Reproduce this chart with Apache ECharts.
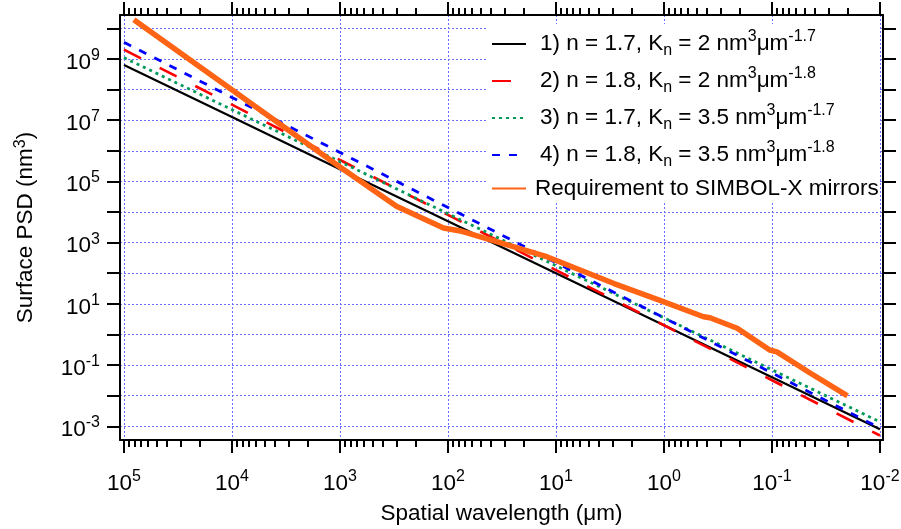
<!DOCTYPE html>
<html>
<head>
<meta charset="UTF-8">
<title>Surface PSD vs spatial wavelength</title>
<script src="https://cdn.jsdelivr.net/npm/echarts@6/dist/echarts.min.js"></script>
<style>
  body { margin: 0; background: #fff; }
  #main { width: 901px; height: 529px; }
</style>
</head>
<body>
<div id="main"></div>
<script>
// wavelengths (um) where the four power-law fits are read
const fitWavelength = [1e5, 1e4, 1e3, 1e2, 1e1, 1, 1e-1, 1e-2];
// surface PSD (nm^3) of each fit at those wavelengths
const fit1 = [6.3e8, 1.26e7, 2.5e5, 5.0e3, 1.0e2, 2.0, 4.0e-2, 8.0e-4];
const fit2 = [2.0e9, 3.2e7, 5.0e5, 8.0e3, 1.26e2, 2.0, 3.2e-2, 5.0e-4];
const fit3 = [1.1e9, 2.2e7, 4.4e5, 8.8e3, 1.75e2, 3.5, 7.0e-2, 1.4e-3];
const fit4 = [3.5e9, 5.5e7, 8.8e5, 1.4e4, 2.2e2, 3.5, 5.5e-2, 8.8e-4];
// SIMBOL-X requirement curve
const reqWavelength = [8.1e4, 1000, 300, 110, 77, 33, 12, 2.9, 1.09, 0.43, 0.375, 0.21, 0.105, 0.09, 0.044, 0.02];
const reqPSD = [1.9e10, 2.95e5, 1.55e4, 3.0e3, 2.4e3, 1.0e3, 340, 46, 13, 3.8, 3.5, 1.6, 0.31, 0.27, 0.054, 0.0098];

const seriesNames = ['fit1', 'fit2', 'fit3', 'fit4', 'req'];
const legendLabels = [
  '{b|1) n = 1.7, K}{sub|n}{b| = 2 nm}{sup|3}{b|μm}{sup|-1.7}',
  '{b|2) n = 1.8, K}{sub|n}{b| = 2 nm}{sup|3}{b|μm}{sup|-1.8}',
  '{b|3) n = 1.7, K}{sub|n}{b| = 3.5 nm}{sup|3}{b|μm}{sup|-1.7}',
  '{b|4) n = 1.8, K}{sub|n}{b| = 3.5 nm}{sup|3}{b|μm}{sup|-1.8}',
  '{b|Requirement to SIMBOL-X mirrors}'
];

// axis ticks
const xMajorTicks = [1e5, 1e4, 1e3, 1e2, 1e1, 1, 1e-1, 1e-2];
const xMinorSteps = [2, 3, 4, 5, 6, 7, 8, 9];
const yMajorTicks = [1e-3, 1e-2, 1e-1, 1, 1e1, 1e2, 1e3, 1e4, 1e5, 1e6, 1e7, 1e8, 1e9, 1e10];
const yLabelTicks = [1e-3, 1e-1, 1e1, 1e3, 1e5, 1e7, 1e9];

const xMinorTicks = [];
xMajorTicks.slice(1).forEach(d => xMinorSteps.forEach(s => xMinorTicks.push(d * s)));

const X_MIN = Math.pow(10, -2.028), X_MAX = Math.pow(10, 5.037);
const Y_MIN = Math.pow(10, -3.447), Y_MAX = Math.pow(10, 10.434);

const FONT = 'Liberation Sans, Arial, sans-serif';
const richText = {
  b: { fontFamily: FONT, fontSize: 22.5, lineHeight: 30, color: '#000' },
  sup: { fontFamily: FONT, fontSize: 16, lineHeight: 14, verticalAlign: 'top', color: '#000' },
  sub: { fontFamily: FONT, fontSize: 16, lineHeight: 16, verticalAlign: 'bottom', color: '#000' }
};
const legendRich = {
  b: { fontFamily: FONT, fontSize: 22.5, lineHeight: 30, color: '#000' },
  sup: { fontFamily: FONT, fontSize: 16, lineHeight: 16, verticalAlign: 'top', color: '#000' },
  sub: { fontFamily: FONT, fontSize: 16, lineHeight: 16, verticalAlign: 'bottom', color: '#000' }
};
const black = { color: '#000', width: 2 };
const gridLine = { show: true, lineStyle: { color: '#6f6fff', type: [2, 2], width: 1 } };
const powLabel = v => '{b|10}{sup|' + Math.round(Math.log10(v)) + '}';

function xAxis(position, ticks, len, extra) {
  return Object.assign({
    type: 'log', gridIndex: 0, position: position, inverse: true, min: X_MIN, max: X_MAX,
    axisLine: { show: false, onZero: false },
    axisTick: { show: true, customValues: ticks, length: len, lineStyle: black },
    axisLabel: { show: false },
    splitLine: { show: false }
  }, extra);
}
function yAxis(position, extra) {
  return Object.assign({
    type: 'log', gridIndex: 0, position: position, min: Y_MIN, max: Y_MAX,
    axisLine: { show: true, onZero: false, lineStyle: black },
    axisTick: { show: true, customValues: yMajorTicks, length: 13, lineStyle: black },
    axisLabel: { show: false },
    splitLine: { show: false }
  }, extra);
}

const chart = echarts.init(document.getElementById('main'));
chart.setOption({
  animation: false,
  backgroundColor: '#fff',
  grid: { left: 120, right: 18, top: 15, bottom: 89, outerBoundsMode: 'none', containLabel: false },
  xAxis: [
    xAxis('bottom', xMajorTicks, 13, {
      axisLine: { show: true, onZero: false, lineStyle: black },
      axisLabel: { show: true, customValues: xMajorTicks, formatter: powLabel, margin: 29, rich: richText },
      splitLine: gridLine,
      name: 'Spatial wavelength (μm)', nameLocation: 'middle', nameGap: 56,
      nameTextStyle: { fontFamily: FONT, fontSize: 22.5, lineHeight: 26, color: '#000' }
    }),
    xAxis('bottom', xMinorTicks, 7),
    xAxis('top', xMajorTicks, 13, { axisLine: { show: true, onZero: false, lineStyle: black } }),
    xAxis('top', xMinorTicks, 7)
  ],
  yAxis: [
    yAxis('left', {
      axisLabel: { show: true, customValues: yLabelTicks, formatter: powLabel, margin: 20,
        padding: [7, 0, 0, 0], rich: richText },
      splitLine: gridLine,
      name: '{b|Surface PSD (nm}{sup|3}{b|)}', nameLocation: 'middle', nameGap: 81, nameRotate: 90,
      nameTextStyle: { rich: {
        b: { fontFamily: FONT, fontSize: 22.5, lineHeight: 26, color: '#000' },
        sup: { fontFamily: FONT, fontSize: 16, lineHeight: 12, verticalAlign: 'top', color: '#000' }
      } }
    }),
    yAxis('right')
  ],
  legend: {
    orient: 'vertical', left: 487, top: 24, padding: [5, 1, 2, 4], itemGap: 7,
    itemWidth: 34, itemHeight: 14, backgroundColor: '#fff', selectedMode: false,
    itemStyle: { opacity: 0 },
    data: seriesNames.map((n, i) => ({ name: n, textStyle: { padding: [0, 0, 0, i === 4 ? 4 : 9], rich: legendRich } })),
    formatter: name => legendLabels[seriesNames.indexOf(name)],
    textStyle: { rich: legendRich }
  },
  series: [
    { name: 'fit1', type: 'line', symbol: 'none', data: fitWavelength.map((x, i) => [x, fit1[i]]),
      lineStyle: { color: '#000000', width: 2.2 }, itemStyle: { color: '#000000' } },
    { name: 'fit2', type: 'line', symbol: 'none', data: fitWavelength.map((x, i) => [x, fit2[i]]),
      lineStyle: { color: '#ff0000', width: 2.6, type: [19, 21] }, itemStyle: { color: '#ff0000' } },
    { name: 'fit3', type: 'line', symbol: 'none', data: fitWavelength.map((x, i) => [x, fit3[i]]),
      lineStyle: { color: '#00995a', width: 2.8, type: [3, 4] }, itemStyle: { color: '#00995a' } },
    { name: 'fit4', type: 'line', symbol: 'none', data: fitWavelength.map((x, i) => [x, fit4[i]]),
      lineStyle: { color: '#0000ff', width: 2.8, type: [8, 9] }, itemStyle: { color: '#0000ff' } },
    { name: 'req', type: 'line', symbol: 'none', data: reqWavelength.map((x, i) => [x, reqPSD[i]]),
      lineStyle: { color: '#ff6414', width: 5.5, join: 'round' }, itemStyle: { color: '#ff6414' } }
  ]
});
</script>
</body>
</html>
